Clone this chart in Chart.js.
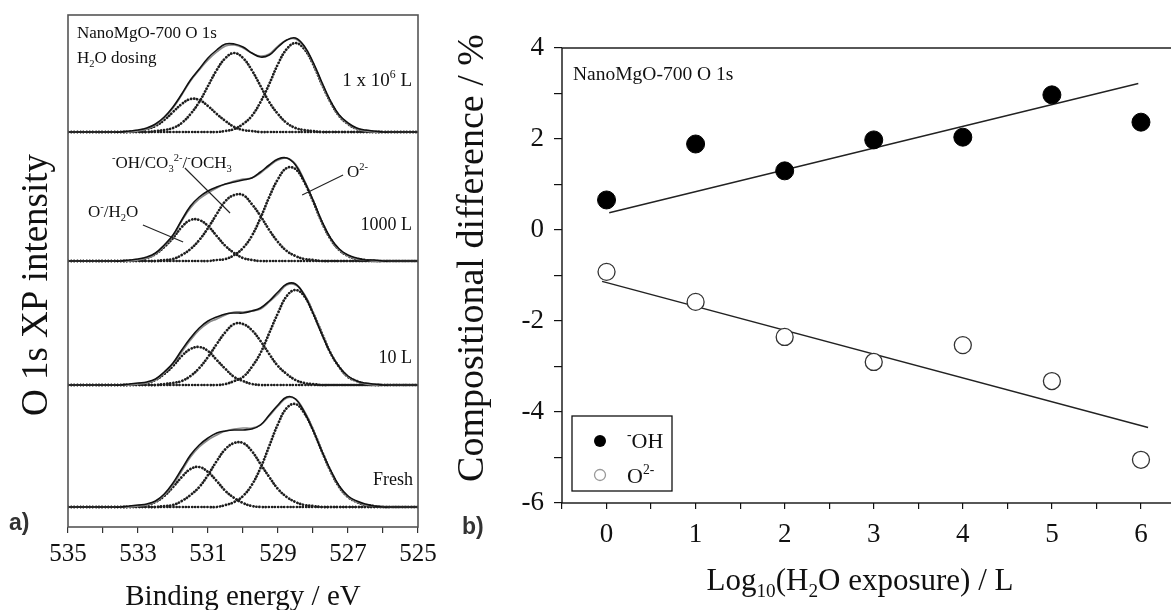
<!DOCTYPE html>
<html lang="en">
<head>
<meta charset="UTF-8">
<title>NanoMgO-700 O 1s - H2O dosing</title>
<script src="https://cdn.jsdelivr.net/npm/chart.js"></script>
<style>
  html, body { margin: 0; padding: 0; background: #fff; overflow: hidden; }
  body { width: 1171px; height: 610px; position: relative; }
  canvas { position: absolute; top: 0; }
  #spectra { left: 0; }
  #trend { left: 440px; }
</style>
</head>
<body>
<canvas id="spectra" width="450" height="610"></canvas>
<canvas id="trend" width="760" height="610"></canvas>
<script>
// ---------- panel a: O 1s spectra ----------
// binding energy grid (eV)
const energy = [535, 534.75, 534.5, 534.25, 534, 533.75, 533.5, 533.25, 533, 532.75, 532.5,
  532.25, 532, 531.75, 531.5, 531.25, 531, 530.75, 530.5, 530.25, 530, 529.75, 529.5, 529.25,
  529, 528.75, 528.5, 528.25, 528, 527.75, 527.5, 527.25, 527, 526.75, 526.5, 526.25, 526,
  525.75, 525.5, 525.25, 525];
const energyTicks = [535, 533, 531, 529, 527, 525];

// intensities above each spectrum's own baseline (arbitrary units)
// 1 x 10^6 L
const e6Comp1 = [0,0,0,0,0,0,0,0,1,3,6,12,20,28,33,32,26,18,11,5,2,1,0,0,0,0,0,0,0,0,0,0,0,0,0,0,0,0,0,0,0];
const e6Comp2 = [0,0,0,0,0,0,0,0,0,0,1,2,4,9,18,30,46,62,74,79,74,62,46,30,18,9,4,2,1,0,0,0,0,0,0,0,0,0,0,0,0];
const e6Comp3 = [0,0,0,0,0,0,0,0,0,0,0,0,0,0,0,0,0,0,1,3,8,16,30,48,68,83,89,83,68,48,30,16,8,3,1,0,0,0,0,0,0];
const e6Fit   = [0,0,0,0,0,0,0,0,1,3,7,14,24,37,51,62,72,80,86,87,84,79,76,78,86,92,93,85,69,48,30,16,8,3,1,0,0,0,0,0,0];
const e6Data  = [0,0,0,0,0,0,0,1,2,4,8,15,25,38,52,63,74,82,88,88,85,79,75,77,85,92,94,86,70,50,31,17,9,4,2,1,0,0,0,0,0];
// 1000 L
const l1000Comp1 = [0,0,0,0,0,0,0,0,1,3,7,14,23,34,41,41,35,25,15,8,3,1,0,0,0,0,0,0,0,0,0,0,0,0,0,0,0,0,0,0,0];
const l1000Comp2 = [0,0,0,0,0,0,0,0,0,0,0,1,2,6,12,21,33,47,60,66,66,57,45,31,19,10,5,2,1,0,0,0,0,0,0,0,0,0,0,0,0];
const l1000Comp3 = [0,0,0,0,0,0,0,0,0,0,0,0,0,0,0,0,0,1,2,6,13,25,43,64,82,93,92,79,60,39,22,11,5,2,1,0,0,0,0,0,0];
const l1000Fit   = [0,0,0,0,0,0,0,0,1,3,7,15,25,40,53,62,68,73,77,80,82,83,88,95,101,103,97,81,61,39,22,11,5,2,1,0,0,0,0,0,0];
const l1000Data  = [0,0,0,0,0,0,0,1,2,4,8,16,26,41,55,64,70,74,77,79,81,83,89,96,102,103,96,80,61,40,23,12,6,3,1,1,0,0,0,0,0];
// 10 L
const l10Comp1 = [0,0,0,0,0,0,0,0,1,2,5,11,19,29,36,38,34,25,16,8,4,1,0,0,0,0,0,0,0,0,0,0,0,0,0,0,0,0,0,0,0];
const l10Comp2 = [0,0,0,0,0,0,0,0,0,0,0,1,2,4,9,17,28,41,53,61,61,55,44,31,19,11,5,2,1,0,0,0,0,0,0,0,0,0,0,0,0];
const l10Comp3 = [0,0,0,0,0,0,0,0,0,0,0,0,0,0,0,0,0,0,1,4,8,18,32,52,72,89,95,89,72,52,32,18,8,4,1,0,0,0,0,0,0];
const l10Fit   = [0,0,0,0,0,0,0,0,1,2,5,12,21,33,45,55,62,66,70,73,73,74,76,83,91,100,100,91,73,52,32,18,8,4,1,0,0,0,0,0,0];
const l10Data  = [0,0,0,0,0,0,0,1,2,3,6,13,22,35,47,57,64,68,71,72,72,74,77,84,93,101,101,90,72,51,32,18,9,4,2,1,0,0,0,0,0];
// Fresh
const freshComp1 = [0,0,0,0,0,0,0,0,1,2,5,11,20,30,38,40,35,26,16,9,4,1,0,0,0,0,0,0,0,0,0,0,0,0,0,0,0,0,0,0,0];
const freshComp2 = [0,0,0,0,0,0,0,0,0,0,0,1,2,6,12,20,32,46,58,64,64,56,43,30,18,10,5,2,1,0,0,0,0,0,0,0,0,0,0,0,0];
const freshComp3 = [0,0,0,0,0,0,0,0,0,0,0,0,0,0,0,0,0,0,2,5,11,22,39,61,83,99,103,94,77,56,36,20,10,5,2,1,0,0,0,0,0];
const freshFit   = [0,0,0,0,0,0,0,0,1,2,5,12,22,36,50,60,67,72,76,78,79,79,82,91,101,109,108,96,78,56,36,20,10,5,2,1,0,0,0,0,0];
const freshData  = [0,0,0,0,0,0,0,1,2,3,6,13,24,38,52,62,69,74,76,77,77,78,82,92,102,110,108,95,77,56,37,21,11,6,3,1,0,0,0,0,0];

// vertical offset of each spectrum in the stack
const stackBase = [395, 266, 142, 20];
const stackNames = ['1 x 10^6 L', '1000 L', '10 L', 'Fresh'];

// ---------- panel b: compositional difference ----------
const exposure = [0, 1, 2, 3, 4, 5, 6];
const ohDiff = [0.66, 1.89, 1.30, 1.98, 2.04, 2.97, 2.37];
const o2Diff = [-0.92, -1.58, -2.35, -2.90, -2.53, -3.32, -5.05];
const ohFitX = [0.03, 5.97];
const ohFitY = [0.38, 3.22];
const o2FitX = [-0.05, 6.08];
const o2FitY = [-1.13, -4.34];

const SERIF = "'Liberation Serif', 'Times New Roman', serif";

// text with sub/superscripts: parts = [[text, ''|'sup'|'sub'], ...]
function drawRich(ctx, parts, x, y, size, align) {
  const small = size * 0.62;
  let total = 0;
  const widths = parts.map(([t, k]) => {
    ctx.font = (k ? small : size) + 'px ' + SERIF;
    const w = ctx.measureText(t).width;
    total += w;
    return w;
  });
  if (align === 'center') x -= total / 2;
  else if (align === 'right') x -= total;
  ctx.textAlign = 'left';
  ctx.textBaseline = 'alphabetic';
  parts.forEach(([t, k], i) => {
    ctx.font = (k ? small : size) + 'px ' + SERIF;
    const dy = k === 'sup' ? -size * 0.42 : k === 'sub' ? size * 0.22 : 0;
    ctx.fillText(t, x, y + dy);
    x += widths[i];
  });
}

function drawRotated(ctx, parts, cx, cy, size) {
  ctx.save();
  ctx.translate(cx, cy);
  ctx.rotate(-Math.PI / 2);
  drawRich(ctx, parts, 0, size * 0.33, size, 'center');
  ctx.restore();
}

// leader lines in data units: [E1, I1, E2, I2]
const leaderLines = [
  [531.66, 359, 530.37, 314],
  [532.86, 302, 531.71, 285],
  [527.14, 352, 528.31, 332]
];

const spectraDecor = {
  id: 'spectraDecor',
  afterDraw(chart) {
    const { ctx, chartArea: a, scales: { x, y } } = chart;
    ctx.save();
    ctx.strokeStyle = '#555';
    ctx.lineWidth = 1.6;
    ctx.strokeRect(a.left, a.top, a.right - a.left, a.bottom - a.top);

    ctx.strokeStyle = '#222';
    ctx.lineWidth = 1.1;
    leaderLines.forEach(l => {
      ctx.beginPath();
      ctx.moveTo(x.getPixelForValue(l[0]), y.getPixelForValue(l[1]));
      ctx.lineTo(x.getPixelForValue(l[2]), y.getPixelForValue(l[3]));
      ctx.stroke();
    });

    ctx.fillStyle = '#111';
    drawRich(ctx, [['NanoMgO-700 O 1s', '']], 77, 38, 17);
    drawRich(ctx, [['H', ''], ['2', 'sub'], ['O dosing', '']], 77, 63, 17);
    drawRich(ctx, [['1 x 10', ''], ['6', 'sup'], [' L', '']], 412, 86, 19, 'right');
    drawRich(ctx, [['1000 L', '']], 412, 230, 18, 'right');
    drawRich(ctx, [['10 L', '']], 412, 363, 18, 'right');
    drawRich(ctx, [['Fresh', '']], 413, 485, 18, 'right');
    drawRich(ctx, [['-', 'sup'], ['OH/CO', ''], ['3', 'sub'], ['2-', 'sup'], ['/', ''], ['-', 'sup'], ['OCH', ''], ['3', 'sub']], 112, 168, 17);
    drawRich(ctx, [['O', ''], ['-', 'sup'], ['/H', ''], ['2', 'sub'], ['O', '']], 88, 217, 17);
    drawRich(ctx, [['O', ''], ['2-', 'sup']], 347, 177, 17);

    drawRich(ctx, [['Binding energy / eV', '']], (a.left + a.right) / 2, 605, 29, 'center');
    drawRotated(ctx, [['O 1s XP intensity', '']], 35, 285, 37);

    ctx.fillStyle = '#333';
    ctx.font = "bold 23px 'Liberation Sans', Arial, sans-serif";
    ctx.textAlign = 'left';
    ctx.fillText('a)', 9, 530);
    ctx.restore();
  }
};

const spectra = [
  { comps: [e6Comp1, e6Comp2, e6Comp3], fit: e6Fit, data: e6Data },
  { comps: [l1000Comp1, l1000Comp2, l1000Comp3], fit: l1000Fit, data: l1000Data },
  { comps: [l10Comp1, l10Comp2, l10Comp3], fit: l10Fit, data: l10Data },
  { comps: [freshComp1, freshComp2, freshComp3], fit: freshFit, data: freshData }
];

const toPts = (arr, base) => energy.map((e, i) => ({ x: e, y: base + arr[i] }));
const spectraSets = [];
spectra.forEach((s, k) => {
  const base = stackBase[k];
  spectraSets.push({ label: stackNames[k] + ' data', data: toPts(s.data, base), borderColor: '#111', borderWidth: 1.6, order: 0 });
  spectraSets.push({ label: stackNames[k] + ' fit', data: toPts(s.fit, base), borderColor: '#8a8a8a', borderWidth: 1.6, order: 1 });
  s.comps.forEach((c, j) => spectraSets.push({
    label: stackNames[k] + ' comp ' + (j + 1), data: toPts(c, base),
    borderColor: '#1e1e1e', borderWidth: 2.7, borderDash: [0.1, 3], borderCapStyle: 'round', order: 2
  }));
});

new Chart(document.getElementById('spectra'), {
  type: 'line',
  data: { datasets: spectraSets },
  options: {
    responsive: false,
    animation: false,
    layout: { padding: { left: 68, right: 32, top: 15, bottom: 0 } },
    elements: { point: { radius: 0 }, line: { tension: 0.4, fill: false } },
    plugins: { legend: { display: false }, tooltip: { enabled: false } },
    scales: {
      x: {
        type: 'linear', reverse: true, min: 525, max: 535,
        afterFit(s) { s.height = 83; },
        border: { display: false },
        grid: { drawOnChartArea: false, drawTicks: true, tickLength: 6, color: '#333', lineWidth: 1.2 },
        ticks: {
          stepSize: 1, padding: 6, color: '#111', maxRotation: 0, autoSkip: false,
          font: { family: SERIF, size: 25 },
          callback: v => energyTicks.includes(v) ? String(v) : ''
        }
      },
      y: { type: 'linear', min: 0, max: 512, display: false }
    }
  },
  plugins: [spectraDecor]
});

// ---------- panel b chart ----------
const trendDecor = {
  id: 'trendDecor',
  afterDraw(chart) {
    const { ctx, chartArea: a } = chart;
    ctx.save();
    ctx.strokeStyle = '#111';
    ctx.lineWidth = 1.4;
    ctx.strokeRect(a.left, a.top, a.right - a.left, a.bottom - a.top);

    // legend
    ctx.lineWidth = 1.3;
    ctx.strokeRect(132, 416, 100, 75);
    ctx.fillStyle = '#000';
    ctx.beginPath(); ctx.arc(160, 441, 6, 0, Math.PI * 2); ctx.fill();
    ctx.strokeStyle = '#999';
    ctx.lineWidth = 1.3;
    ctx.beginPath(); ctx.arc(160, 475, 5.5, 0, Math.PI * 2); ctx.stroke();
    ctx.fillStyle = '#111';
    drawRich(ctx, [['-', 'sup'], ['OH', '']], 187, 448, 22);
    drawRich(ctx, [['O', ''], ['2-', 'sup']], 187, 483, 22);

    drawRich(ctx, [['NanoMgO-700 O 1s', '']], 133, 80, 19.5);
    drawRich(ctx, [['Log', ''], ['10', 'sub'], ['(H', ''], ['2', 'sub'], ['O exposure) / L', '']], 420, 590, 31, 'center');
    drawRotated(ctx, [['Compositional difference / %', '']], 30, 258, 38);

    ctx.fillStyle = '#333';
    ctx.font = "bold 23px 'Liberation Sans', Arial, sans-serif";
    ctx.textAlign = 'left';
    ctx.fillText('b)', 22, 534);
    ctx.restore();
  }
};

const pts = (xs, ys) => xs.map((v, i) => ({ x: v, y: ys[i] }));

new Chart(document.getElementById('trend'), {
  type: 'scatter',
  data: {
    datasets: [
      { label: 'OH', data: pts(exposure, ohDiff), backgroundColor: '#000', borderColor: '#000', pointRadius: 9, order: 0 },
      { label: 'O2-', data: pts(exposure, o2Diff), backgroundColor: '#fff', borderColor: '#333', borderWidth: 1.3, pointRadius: 8.5, order: 0 },
      { label: 'OH fit', data: pts(ohFitX, ohFitY), showLine: true, pointRadius: 0, borderColor: '#222', borderWidth: 1.4, order: 1 },
      { label: 'O2- fit', data: pts(o2FitX, o2FitY), showLine: true, pointRadius: 0, borderColor: '#222', borderWidth: 1.4, order: 1 }
    ]
  },
  options: {
    responsive: false,
    animation: false,
    layout: { padding: { left: 0, right: 14.5, top: 48, bottom: 0 } },
    plugins: { legend: { display: false }, tooltip: { enabled: false } },
    scales: {
      x: {
        type: 'linear', min: -0.5, max: 6.5,
        afterFit(s) { s.height = 107; },
        border: { display: false },
        grid: { drawOnChartArea: false, tickLength: 6, color: '#111', lineWidth: 1.2 },
        ticks: {
          stepSize: 0.5, padding: 10, color: '#111', maxRotation: 0, autoSkip: false,
          font: { family: SERIF, size: 27 },
          callback: v => Number.isInteger(v) ? String(v) : ''
        }
      },
      y: {
        type: 'linear', min: -6, max: 4,
        afterFit(s) { s.width = 122; },
        border: { display: false },
        grid: { drawOnChartArea: false, tickLength: 8, color: '#111', lineWidth: 1.2 },
        ticks: {
          stepSize: 1, padding: 10, color: '#111', autoSkip: false,
          font: { family: SERIF, size: 27 },
          callback: v => v % 2 === 0 ? String(v) : ''
        }
      }
    }
  },
  plugins: [trendDecor]
});
</script>
</body>
</html>
